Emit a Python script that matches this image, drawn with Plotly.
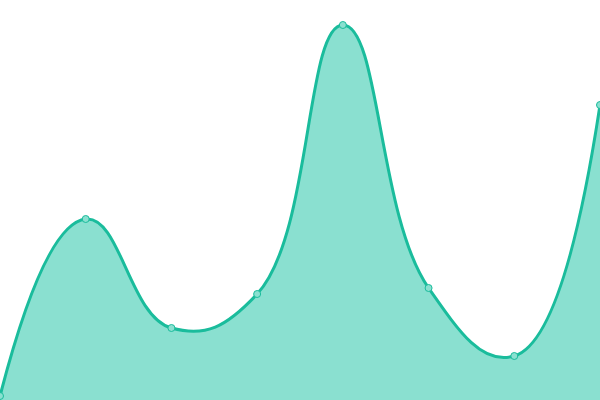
import plotly.graph_objects as go

x_vals = [0, 1, 2, 3, 4, 5, 6, 7]
y_vals = [4, 181, 72, 106, 375, 112, 44, 295]

fig = go.Figure()
fig.add_trace(go.Scatter(
    x=x_vals, y=y_vals,
    mode="lines+markers",
    line=dict(color="#1abc9c", width=3, shape="spline", smoothing=1.3),
    fill="tozeroy",
    fillcolor="#8ae0d0",
    marker=dict(size=7, color="#8ae0d0", line=dict(color="#1abc9c", width=1)),
    cliponaxis=False,
    hoverinfo="skip",
))
fig.update_layout(
    width=600, height=400,
    margin=dict(l=0, r=0, t=0, b=0),
    paper_bgcolor="white", plot_bgcolor="white",
    showlegend=False,
    xaxis=dict(visible=False, range=[0, 7]),
    yaxis=dict(visible=False, range=[0, 400]),
)
fig.write_html(
    "out.html",
    config={"displayModeBar": False},
    post_script="document.body.style.margin='0';document.body.style.overflow='hidden';",
)
